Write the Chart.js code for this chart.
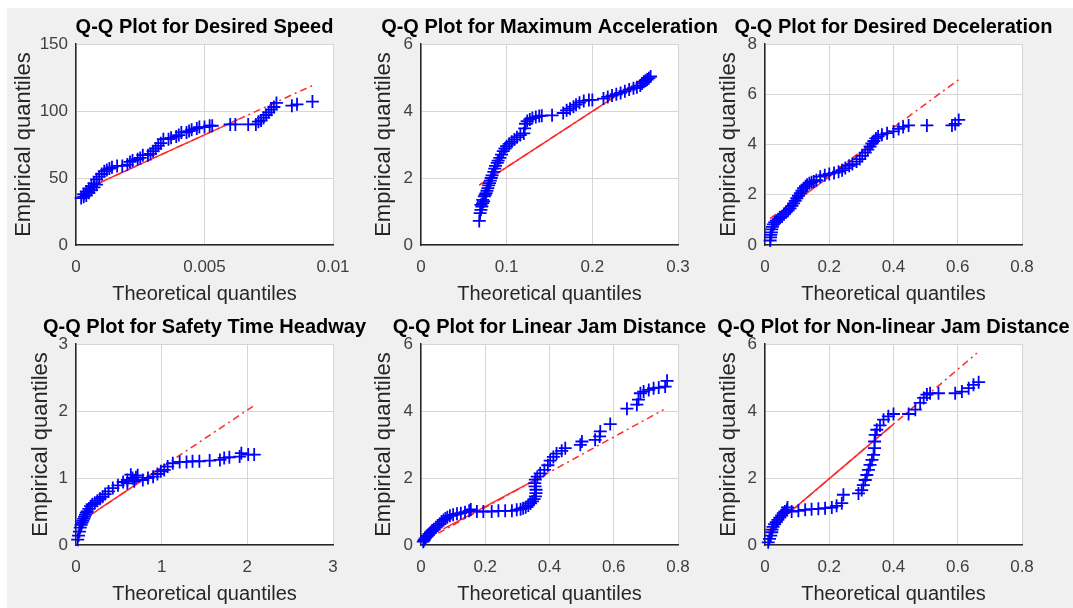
<!DOCTYPE html>
<html>
<head>
<meta charset="utf-8">
<script src="https://cdn.jsdelivr.net/npm/chart.js@4.4.0/dist/chart.umd.min.js"></script>
<style>
html,body{margin:0;padding:0;background:#ffffff;width:1073px;height:608px;overflow:hidden;}
#fig{position:absolute;left:7px;top:8px;width:1066px;height:600px;background:#f0f0f0;}
canvas{position:absolute;left:0;top:0;}
</style>
</head>
<body>
<div id="fig"></div>
<canvas id="c0" width="1073" height="608"></canvas>
<canvas id="c1" width="1073" height="608"></canvas>
<canvas id="c2" width="1073" height="608"></canvas>
<canvas id="c3" width="1073" height="608"></canvas>
<canvas id="c4" width="1073" height="608"></canvas>
<canvas id="c5" width="1073" height="608"></canvas>
<script>
// ---------------- DATA ----------------
const titles = [
  "Q-Q Plot for Desired Speed",
  "Q-Q Plot for Maximum Acceleration",
  "Q-Q Plot for Desired Deceleration",
  "Q-Q Plot for Safety Time Headway",
  "Q-Q Plot for Linear Jam Distance",
  "Q-Q Plot for Non-linear Jam Distance"
];
const xAxisLabel = "Theoretical quantiles";
const yAxisLabel = "Empirical quantiles";

// 1. Desired Speed
const speedX = [0.0002,0.0003,0.0003,0.0004,0.0004,0.0005,0.0005,0.0006,0.0006,0.0007,0.0007,0.0008,0.0008,0.0009,0.0010,0.0011,0.0012,0.0013,0.0014,0.0016,0.0018,0.0020,0.0021,0.0022,0.0024,0.0025,0.0026,0.0028,0.0029,0.0030,0.0031,0.0032,0.0033,0.0034,0.0036,0.0037,0.0039,0.0040,0.0041,0.0043,0.0044,0.0045,0.0047,0.0048,0.0050,0.0052,0.0053,0.0060,0.0062,0.0067,0.0070,0.0071,0.0072,0.0073,0.0074,0.0075,0.0076,0.0077,0.0078,0.0084,0.0086,0.0092];
const speedY = [35,36,38,37,40,39,42,41,44,43,46,45,49,51,53,55,56,57,58,59,59,60,62,63,64,65,67,67,68,70,72,74,76,79,79,80,81,82,84,84,85,86,87,88,88,89,89,90,90,90,90,92,93,95,97,99,101,103,106,104,105,107];
const speedRefX = [0.0003, 0.0092];
const speedRefY = [41, 119];
const speedQuartX = [0.0008, 0.0063];
const speedQuartY = [45.4, 93.6];
const speedXTicks = [0, 0.005, 0.01];
const speedXTickLabels = ["0", "0.005", "0.01"];
const speedYTicks = [0, 50, 100, 150];
const speedYTickLabels = ["0", "50", "100", "150"];

// 2. Maximum Acceleration
const accX = [0.068,0.069,0.070,0.070,0.071,0.072,0.072,0.073,0.074,0.075,0.076,0.077,0.078,0.079,0.080,0.081,0.082,0.083,0.085,0.086,0.087,0.089,0.090,0.092,0.094,0.096,0.098,0.100,0.103,0.106,0.109,0.112,0.116,0.120,0.121,0.122,0.124,0.127,0.130,0.134,0.138,0.141,0.153,0.166,0.170,0.174,0.178,0.181,0.185,0.190,0.196,0.200,0.213,0.218,0.223,0.228,0.233,0.238,0.243,0.248,0.252,0.256,0.258,0.260,0.262,0.264,0.266,0.268];
const accY = [0.72,0.95,1.05,1.20,1.15,1.25,1.35,1.30,1.45,1.50,1.55,1.62,1.70,1.78,1.85,1.92,2.00,2.08,2.18,2.28,2.36,2.45,2.52,2.60,2.70,2.80,2.88,2.95,3.02,3.08,3.15,3.22,3.28,3.33,3.48,3.62,3.70,3.75,3.79,3.82,3.85,3.86,3.87,3.94,4.02,4.07,4.13,4.19,4.25,4.30,4.33,4.33,4.37,4.42,4.46,4.50,4.54,4.59,4.64,4.68,4.71,4.76,4.82,4.87,4.90,4.94,4.98,5.03];
const accRefX = [0.068, 0.268];
const accRefY = [1.79, 5.12];
const accQuartX = [0.068, 0.2326];
const accQuartY = [1.79, 4.53];
const accXTicks = [0, 0.1, 0.2, 0.3];
const accXTickLabels = ["0", "0.1", "0.2", "0.3"];
const accYTicks = [0, 2, 4, 6];
const accYTickLabels = ["0", "2", "4", "6"];

// 3. Desired Deceleration
const decX = [0.016,0.017,0.018,0.020,0.021,0.023,0.026,0.030,0.035,0.041,0.047,0.053,0.059,0.065,0.072,0.078,0.084,0.089,0.094,0.099,0.104,0.110,0.115,0.120,0.126,0.131,0.138,0.145,0.152,0.160,0.172,0.186,0.200,0.215,0.229,0.240,0.250,0.262,0.272,0.285,0.295,0.303,0.312,0.320,0.327,0.333,0.339,0.345,0.352,0.364,0.380,0.400,0.416,0.430,0.447,0.504,0.582,0.592,0.603];
const decY = [0.18,0.30,0.40,0.50,0.62,0.72,0.82,0.90,0.97,1.02,1.08,1.13,1.22,1.30,1.38,1.46,1.56,1.66,1.76,1.86,1.96,2.06,2.16,2.26,2.34,2.40,2.46,2.50,2.53,2.58,2.72,2.78,2.83,2.87,2.92,2.98,3.06,3.15,3.22,3.32,3.42,3.55,3.68,3.80,3.92,4.04,4.14,4.24,4.32,4.39,4.45,4.52,4.62,4.70,4.76,4.76,4.76,4.82,4.98];
const decRefX = [0.0156, 0.6026];
const decRefY = [1.05, 6.58];
const decQuartX = [0.10, 0.35];
const decQuartY = [1.78, 4.13];
const decXTicks = [0, 0.2, 0.4, 0.6, 0.8];
const decXTickLabels = ["0", "0.2", "0.4", "0.6", "0.8"];
const decYTicks = [0, 2, 4, 6, 8];
const decYTickLabels = ["0", "2", "4", "6", "8"];

// 4. Safety Time Headway
const headX = [0.02,0.03,0.04,0.05,0.06,0.07,0.08,0.09,0.10,0.11,0.12,0.13,0.15,0.17,0.19,0.22,0.25,0.28,0.31,0.34,0.38,0.43,0.49,0.55,0.60,0.60,0.64,0.66,0.68,0.70,0.72,0.78,0.84,0.90,0.95,0.99,1.03,1.07,1.13,1.21,1.29,1.36,1.44,1.56,1.68,1.73,1.79,1.91,1.93,2.01,2.08];
const headY = [0.08,0.14,0.20,0.26,0.30,0.33,0.36,0.39,0.42,0.45,0.48,0.50,0.54,0.58,0.61,0.63,0.66,0.69,0.72,0.76,0.80,0.85,0.89,0.94,0.97,0.92,1.05,1.00,0.95,1.01,1.04,0.97,1.00,1.02,1.06,1.10,1.12,1.17,1.22,1.24,1.24,1.25,1.25,1.26,1.27,1.30,1.31,1.32,1.37,1.35,1.35];
const headRefX = [0.02, 2.065];
const headRefY = [0.32, 2.07];
const headQuartX = [0.25, 1.0];
const headQuartY = [0.52, 1.16];
const headXTicks = [0, 1, 2, 3];
const headXTickLabels = ["0", "1", "2", "3"];
const headYTicks = [0, 1, 2, 3];
const headYTickLabels = ["0", "1", "2", "3"];

// 5. Linear Jam Distance
const linX = [0.007,0.010,0.013,0.017,0.020,0.025,0.030,0.035,0.040,0.046,0.052,0.058,0.064,0.070,0.076,0.082,0.090,0.100,0.112,0.124,0.137,0.150,0.155,0.174,0.194,0.220,0.241,0.262,0.283,0.298,0.310,0.318,0.326,0.334,0.341,0.347,0.352,0.356,0.358,0.358,0.355,0.354,0.356,0.362,0.371,0.384,0.395,0.402,0.412,0.422,0.438,0.449,0.496,0.501,0.542,0.556,0.558,0.589,0.641,0.672,0.677,0.683,0.693,0.709,0.724,0.740,0.760,0.766];
const linY = [0.10,0.15,0.20,0.24,0.28,0.33,0.38,0.43,0.47,0.52,0.58,0.63,0.70,0.75,0.79,0.83,0.87,0.90,0.93,0.95,0.98,1.02,1.06,1.00,1.00,1.00,1.02,1.02,1.02,1.05,1.07,1.10,1.13,1.18,1.24,1.30,1.37,1.45,1.55,1.65,1.75,1.85,1.95,2.04,2.14,2.24,2.38,2.52,2.63,2.73,2.81,2.89,2.99,3.09,3.14,3.24,3.39,3.61,4.07,4.19,4.34,4.53,4.58,4.63,4.68,4.70,4.73,4.90];
const linRefX = [0.0073, 0.7553];
const linRefY = [0.11, 4.04];
const linQuartX = [0.07, 0.37];
const linQuartY = [0.48, 2.02];
const linXTicks = [0, 0.2, 0.4, 0.6, 0.8];
const linXTickLabels = ["0", "0.2", "0.4", "0.6", "0.8"];
const linYTicks = [0, 2, 4, 6];
const linYTickLabels = ["0", "2", "4", "6"];

// 6. Non-linear Jam Distance
const nlX = [0.010,0.014,0.018,0.021,0.022,0.025,0.030,0.035,0.040,0.046,0.052,0.057,0.062,0.068,0.070,0.083,0.104,0.125,0.145,0.166,0.187,0.208,0.223,0.239,0.244,0.291,0.301,0.306,0.312,0.317,0.322,0.327,0.333,0.338,0.341,0.341,0.343,0.348,0.358,0.369,0.384,0.400,0.447,0.468,0.483,0.494,0.504,0.514,0.540,0.592,0.613,0.634,0.649,0.665];
const nlY = [0.08,0.18,0.28,0.38,0.46,0.54,0.62,0.68,0.75,0.82,0.88,0.95,1.00,1.05,1.12,1.00,1.02,1.05,1.07,1.08,1.10,1.12,1.17,1.25,1.50,1.54,1.64,1.79,1.94,2.09,2.24,2.39,2.54,2.69,2.89,3.09,3.29,3.44,3.57,3.74,3.84,3.91,3.91,4.04,4.24,4.39,4.49,4.53,4.53,4.53,4.58,4.68,4.78,4.86];
const nlRefX = [0.0104, 0.6597];
const nlRefY = [0.43, 5.73];
const nlQuartX = [0.07, 0.40];
const nlQuartY = [0.92, 3.61];
const nlXTicks = [0, 0.2, 0.4, 0.6, 0.8];
const nlXTickLabels = ["0", "0.2", "0.4", "0.6", "0.8"];
const nlYTicks = [0, 2, 4, 6];
const nlYTickLabels = ["0", "2", "4", "6"];

// ---------------- LAYOUT / STYLE ----------------
const FONT = '"Liberation Sans", Arial, Helvetica, sans-serif';
Chart.defaults.font.family = FONT;

// axes boxes in page pixels: [left, right, top, bottom], y-axis box width
const boxes = [
  {L:76,  R:333,  T:44,  B:245, yW:65},
  {L:421, R:678,  T:44,  B:245, yW:50},
  {L:765, R:1022, T:44,  B:245, yW:49},
  {L:76,  R:333,  T:344, B:545, yW:48},
  {L:421, R:678,  T:344, B:545, yW:50},
  {L:765, R:1022, T:344, B:545, yW:49}
];
const X_AXIS_H = 61;

const plotBg = {
  id: 'plotBg',
  beforeDraw(chart) {
    const a = chart.chartArea, ctx = chart.ctx;
    ctx.save();
    ctx.fillStyle = '#ffffff';
    ctx.fillRect(a.left, a.top, a.right - a.left, a.bottom - a.top);
    ctx.restore();
  }
};
const axTitle = {
  id: 'axTitle',
  afterDraw(chart, args, opts) {
    const a = chart.chartArea, ctx = chart.ctx;
    ctx.save();
    ctx.font = 'bold 20px ' + FONT;
    ctx.fillStyle = '#000000';
    ctx.textAlign = 'center';
    ctx.textBaseline = 'alphabetic';
    ctx.fillText(opts.text, (a.left + a.right) / 2, a.top - 11.5);
    ctx.restore();
  }
};

function pts(xs, ys) { return xs.map((x, i) => ({x: x, y: ys[i]})); }

function makePlot(idx, xs, ys, refX, refY, qX, qY, xT, xTL, yT, yTL) {
  const b = boxes[idx];
  const ctx = document.getElementById('c' + idx);
  new Chart(ctx, {
    type: 'scatter',
    data: {
      datasets: [
        {
          data: pts(xs, ys),
          pointStyle: 'cross',
          pointRadius: 6.5,
          pointBorderWidth: 1.8,
          borderColor: '#0000ff',
          backgroundColor: '#0000ff',
          clip: false
        },
        {
          data: pts(qX, qY),
          showLine: true,
          borderColor: '#ff2a2a',
          borderWidth: 1.5,
          pointRadius: 0
        },
        {
          data: pts(refX, refY),
          showLine: true,
          borderColor: '#ff2a2a',
          borderWidth: 1.5,
          borderDash: [7, 4, 2, 4],
          pointRadius: 0
        }
      ]
    },
    options: {
      responsive: false,
      animation: false,
      devicePixelRatio: 1,
      events: [],
      layout: {
        padding: {left: b.L - b.yW, right: 1073 - b.R, top: b.T, bottom: 608 - b.B - X_AXIS_H}
      },
      plugins: {
        legend: {display: false},
        tooltip: {enabled: false},
        title: {display: false},
        axTitle: {text: titles[idx]}
      },
      scales: {
        x: {
          type: 'linear',
          position: 'bottom',
          min: xT[0],
          max: xT[xT.length - 1],
          afterBuildTicks: s => { s.ticks = xT.map(v => ({value: v})); },
          afterFit: s => { s.height = X_AXIS_H; },
          ticks: {
            callback: (v, i) => xTL[i],
            autoSkip: false,
            maxRotation: 0,
            padding: 12,
            color: '#404040',
            font: {size: 17}
          },
          grid: {color: '#d6d6d6', lineWidth: 1, drawTicks: false},
          border: {color: '#262626', width: 1.5},
          title: {
            display: true,
            text: xAxisLabel,
            color: '#262626',
            font: {size: 20},
            padding: {top: 0, bottom: 0}
          }
        },
        y: {
          type: 'linear',
          position: 'left',
          min: yT[0],
          max: yT[yT.length - 1],
          afterBuildTicks: s => { s.ticks = yT.map(v => ({value: v})); },
          afterFit: s => { s.width = b.yW; },
          ticks: {
            callback: (v, i) => yTL[i],
            autoSkip: false,
            padding: 8,
            color: '#404040',
            font: {size: 17}
          },
          grid: {color: '#d6d6d6', lineWidth: 1, drawTicks: false},
          border: {color: '#262626', width: 1.5},
          title: {
            display: true,
            text: yAxisLabel,
            color: '#262626',
            font: {size: 22},
            padding: {top: 0, bottom: 0}
          }
        }
      }
    },
    plugins: [plotBg, axTitle]
  });
}

makePlot(0, speedX, speedY, speedRefX, speedRefY, speedQuartX, speedQuartY, speedXTicks, speedXTickLabels, speedYTicks, speedYTickLabels);
makePlot(1, accX, accY, accRefX, accRefY, accQuartX, accQuartY, accXTicks, accXTickLabels, accYTicks, accYTickLabels);
makePlot(2, decX, decY, decRefX, decRefY, decQuartX, decQuartY, decXTicks, decXTickLabels, decYTicks, decYTickLabels);
makePlot(3, headX, headY, headRefX, headRefY, headQuartX, headQuartY, headXTicks, headXTickLabels, headYTicks, headYTickLabels);
makePlot(4, linX, linY, linRefX, linRefY, linQuartX, linQuartY, linXTicks, linXTickLabels, linYTicks, linYTickLabels);
makePlot(5, nlX, nlY, nlRefX, nlRefY, nlQuartX, nlQuartY, nlXTicks, nlXTickLabels, nlYTicks, nlYTickLabels);
</script>
</body>
</html>
